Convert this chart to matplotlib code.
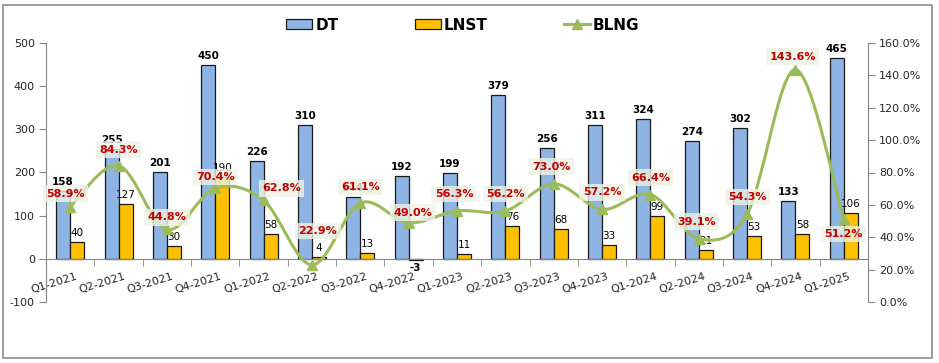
import numpy as np
import matplotlib
matplotlib.use("Agg")
import matplotlib.pyplot as plt
from matplotlib.path import Path
from matplotlib.patches import PathPatch, Patch, Rectangle
from matplotlib.lines import Line2D
import matplotlib.transforms as mtransforms

plt.rcParams["axes.unicode_minus"] = False

# data
quarters = ["Q1-2021", "Q2-2021", "Q3-2021", "Q4-2021", "Q1-2022", "Q2-2022",
            "Q3-2022", "Q4-2022", "Q1-2023", "Q2-2023", "Q3-2023", "Q4-2023",
            "Q1-2024", "Q2-2024", "Q3-2024", "Q4-2024", "Q1-2025"]
dt = [158, 255, 201, 450, 226, 310, 144, 192, 199, 379, 256, 311, 324, 274, 302, 133, 465]
lnst = [40, 127, 30, 190, 58, 4, 13, -3, 11, 76, 68, 33, 99, 21, 53, 58, 106]
blng = [58.9, 84.3, 44.8, 70.4, 62.8, 22.9, 61.1, 49.0, 56.3, 56.2, 73.0, 57.2,
        66.4, 39.1, 54.3, 143.6, 51.2]

# where each % label sits relative to its point (pixels)
pct_offsets = [(-5, 13), (0, 16), (0, 12), (0, 11), (18, 12), (6, 34), (0, 16),
               (4, 10), (-3, 17), (0, 17), (-2, 17), (0, 17), (0, 17), (-2, 17),
               (0, 17), (-3, 13), (0, -15)]

c_dt = "#8DB4E2"
c_lnst = "#FFC000"
c_line = "#9BBB59"
c_red = "#C00000"
c_grey = "#868686"
c_txt = "#262626"

fig = plt.figure(figsize=(9.39, 3.63), dpi=100)
fig.patches.append(Rectangle((3 / 939, 5 / 363), 929 / 939, 353 / 363, transform=fig.transFigure,
                             fill=False, edgecolor="#8c8c8c", lw=1.2))

ax = fig.add_axes([46 / 939, 1 - 302 / 363, 822 / 939, 259 / 363])
ax2 = ax.twinx()

x = np.arange(len(quarters))
w = 0.29
ax.bar(x - w / 2, dt, w, color=c_dt, edgecolor="#1a1a1a", lw=0.9, zorder=2)
ax.bar(x + w / 2, lnst, w, color=c_lnst, edgecolor="#1a1a1a", lw=0.9, zorder=2)

for i in range(len(x)):
    ax.annotate(str(dt[i]), (x[i] - w / 2, dt[i]), xytext=(0, 4), textcoords="offset pixels",
                ha="center", va="bottom", fontsize=7.5, fontweight="bold", color="black")
    if lnst[i] >= 0:
        ax.annotate(str(lnst[i]), (x[i] + w / 2, lnst[i]), xytext=(0, 4), textcoords="offset pixels",
                    ha="center", va="bottom", fontsize=7.5, color="black")
    else:
        ax.annotate(str(lnst[i]), (x[i] + w / 2, lnst[i]), xytext=(0, -3), textcoords="offset pixels",
                    ha="center", va="top", fontsize=7.5, fontweight="bold", color="black")

ax.set_xlim(-0.5, len(quarters) - 0.5)
ax.set_ylim(-100, 500)
ax.set_yticks(range(-100, 501, 100))
ax.tick_params(axis="y", colors=c_grey, labelcolor=c_txt, labelsize=8, length=5, pad=3)

ax.spines["top"].set_visible(False)
ax.spines["right"].set_visible(False)
ax.spines["left"].set_color(c_grey)
ax.spines["bottom"].set_position(("data", 0))
ax.spines["bottom"].set_color(c_grey)
ax.set_xticks(x)
ax.set_xticks(np.arange(0.5, len(quarters) - 1, 1), minor=True)
ax.set_xticklabels(quarters, rotation=17, ha="right", rotation_mode="anchor")
ax.tick_params(axis="x", which="major", length=0, labelsize=8, labelcolor=c_txt, pad=9)
ax.tick_params(axis="x", which="minor", length=5, color=c_grey)
shift = mtransforms.ScaledTranslation(5 / 100, 0, fig.dpi_scale_trans)
for lab in ax.get_xticklabels():
    lab.set_transform(lab.get_transform() + shift)

# smoothed line like Excel (bezier through the points)
pts = np.column_stack([x, blng]).astype(float)
verts = [pts[0]]
codes = [Path.MOVETO]
n = len(pts)
for i in range(n - 1):
    p0 = pts[max(i - 1, 0)]
    p1 = pts[i]
    p2 = pts[i + 1]
    p3 = pts[min(i + 2, n - 1)]
    verts += [p1 + (p2 - p0) / 6, p2 - (p3 - p1) / 6, p2]
    codes += [Path.CURVE4] * 3
ax2.add_patch(PathPatch(Path(verts, codes), fill=False, edgecolor=c_line, lw=2.2, zorder=3))
ax2.plot(x, blng, ls="none", marker="^", ms=7, color=c_line, zorder=4)

for i in range(len(x)):
    ax2.annotate(f"{blng[i]:.1f}%", (x[i], blng[i]), xytext=pct_offsets[i], textcoords="offset pixels",
                 ha="center", va="center", fontsize=8, fontweight="bold", color=c_red, zorder=6,
                 bbox=dict(boxstyle="square,pad=0.3", fc="#EEF3E4", ec="none", alpha=0.8))

ax2.set_ylim(0, 160)
ax2.set_yticks(range(0, 161, 20))
ax2.set_yticklabels([f"{v:.1f}%" for v in range(0, 161, 20)])
ax2.tick_params(axis="y", colors=c_grey, labelcolor=c_txt, labelsize=8, length=5, pad=3)
for s in ["top", "left", "bottom"]:
    ax2.spines[s].set_visible(False)
ax2.spines["right"].set_color(c_grey)

handles = [Patch(facecolor=c_dt, edgecolor="#1a1a1a", lw=0.9),
           Patch(facecolor=c_lnst, edgecolor="#1a1a1a", lw=0.9),
           Line2D([], [], color=c_line, lw=2.2, marker="^", ms=7)]
fig.legend(handles, ["DT", "LNST", "BLNG"], loc="center", bbox_to_anchor=(0.493, 0.931), ncol=3,
           frameon=False, prop={"weight": "bold", "size": 11}, handlelength=1.7, handleheight=0.6,
           handletextpad=0.2, columnspacing=5.0)

fig.savefig("out.png", dpi=100)
